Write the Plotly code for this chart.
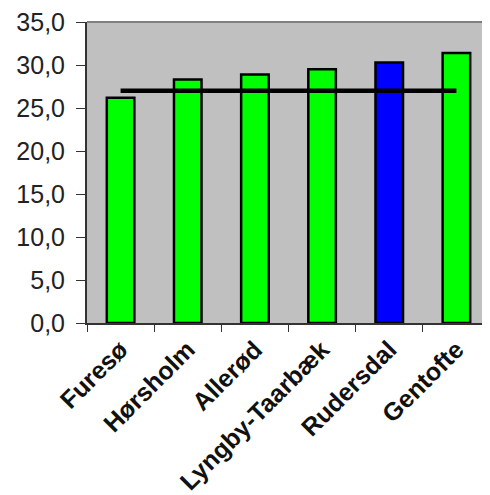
import plotly.graph_objects as go

categories = ["Furesø", "Hørsholm", "Allerød", "Lyngby-Taarbæk", "Rudersdal", "Gentofte"]
values = [26.2, 28.3, 28.9, 29.5, 30.3, 31.4]
bar_colors = ["#00FF00", "#00FF00", "#00FF00", "#00FF00", "#0000FF", "#00FF00"]
average = [27.0] * len(categories)
y_ticks = [0, 5, 10, 15, 20, 25, 30, 35]
y_tick_labels = ["0,0", "5,0", "10,0", "15,0", "20,0", "25,0", "30,0", "35,0"]

fig = go.Figure()
fig.add_trace(go.Bar(
    x=categories, y=values,
    marker=dict(color=bar_colors, line=dict(color="black", width=2.5)),
    width=0.41,
))
fig.add_trace(go.Scatter(
    x=categories, y=average, mode="lines",
    line=dict(color="black", width=4.5),
))

fig.update_layout(
    width=482, height=487,
    margin=dict(l=79, r=0, t=14, b=172),
    paper_bgcolor="white",
    plot_bgcolor="#C0C0C0",
    showlegend=False,
    font=dict(family="Liberation Sans, Arial, sans-serif", color="black"),
)
fig.update_xaxes(
    type="category", range=[-0.5, 5.5], automargin=False,
    tickangle=-45,
    tickfont=dict(size=25, family="Liberation Sans, Arial, sans-serif", weight="bold", color="#111"),
    ticks="outside", tickson="boundaries", ticklen=7, tickcolor="#333",
    showline=True, linecolor="#333", linewidth=2,
    showgrid=False, zeroline=False,
)
fig.update_yaxes(
    range=[0, 35], automargin=False,
    tickvals=y_ticks, ticktext=y_tick_labels,
    tickfont=dict(size=25, color="#222"),
    ticks="outside", ticklen=9, tickcolor="#333",
    ticklabeloverflow="allow", ticklabelstandoff=6,
    showline=True, linecolor="#333", linewidth=2,
    showgrid=False, zeroline=False,
)
fig.add_shape(type="line", xref="paper", yref="paper", x0=0, x1=1, y0=1, y1=1,
              line=dict(color="#808080", width=2))

fig.write_html("out.html")
